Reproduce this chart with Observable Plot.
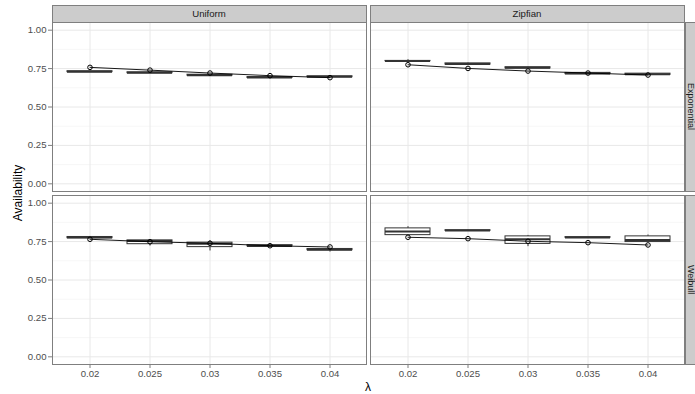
<!DOCTYPE html>
<html>
<head>
<meta charset="utf-8">
<script src="https://cdn.jsdelivr.net/npm/d3@7"></script>
<script src="https://cdn.jsdelivr.net/npm/@observablehq/plot@0.6"></script>
<style>
  html, body { margin: 0; padding: 0; background: white; }
  #chart { position: relative; width: 695px; height: 394px; overflow: hidden; background: white;
           font-family: "Liberation Sans", Arial, Helvetica, sans-serif; }
  .pan { position: absolute; }
  .strip { position: absolute; box-sizing: border-box; background: #cccccc; border: 1px solid #7f7f7f;
           font-size: 9.6px; color: #1a1a1a; display: flex; align-items: center; justify-content: center; }
  .rstrip { border-right: none; font-size: 9px; }
  .vtext { writing-mode: vertical-rl; white-space: nowrap; line-height: 9px; }
  .title { position: absolute; font-size: 12px; color: #000; white-space: nowrap; }
</style>
</head>
<body>
<div id="chart"></div>
<script>
// ---- data ----
const lambdas = ["0.02", "0.025", "0.03", "0.035", "0.04"];
const columns = ["Uniform", "Zipfian"];
const rows = ["Exponential", "Weibull"];
const yBreaks = [0, 0.25, 0.5, 0.75, 1];
const yMinorBreaks = [0.125, 0.375, 0.625, 0.875];
const yTickLabels = ["0.00", "0.25", "0.50", "0.75", "1.00"];
// panel order: Uniform/Exponential, Zipfian/Exponential, Uniform/Weibull, Zipfian/Weibull
const whiskerLow = [
  [0.725, 0.718, 0.702, 0.687, 0.692],
  [0.797, 0.773, 0.748, 0.711, 0.706],
  [0.770, 0.721, 0.689, 0.716, 0.682],
  [0.791, 0.819, 0.717, 0.774, 0.746]
];
const lowerQuartile = [
  [0.727, 0.720, 0.704, 0.689, 0.694],
  [0.798, 0.776, 0.751, 0.714, 0.709],
  [0.772, 0.733, 0.714, 0.719, 0.694],
  [0.792, 0.820, 0.735, 0.775, 0.747]
];
const medianAvail = [
  [0.730, 0.723, 0.707, 0.692, 0.697],
  [0.799, 0.780, 0.755, 0.718, 0.713],
  [0.776, 0.754, 0.736, 0.722, 0.697],
  [0.815, 0.822, 0.765, 0.777, 0.760]
];
const upperQuartile = [
  [0.733, 0.726, 0.710, 0.695, 0.700],
  [0.800, 0.784, 0.759, 0.722, 0.717],
  [0.780, 0.758, 0.743, 0.727, 0.702],
  [0.836, 0.824, 0.784, 0.779, 0.784]
];
const whiskerHigh = [
  [0.735, 0.728, 0.712, 0.697, 0.702],
  [0.808, 0.787, 0.761, 0.725, 0.720],
  [0.782, 0.762, 0.756, 0.731, 0.705],
  [0.847, 0.826, 0.790, 0.781, 0.793]
];
const meanAvail = [
  [0.758, 0.740, 0.721, 0.704, 0.691],
  [0.775, 0.751, 0.734, 0.721, 0.708],
  [0.765, 0.749, 0.739, 0.723, 0.715],
  [0.778, 0.769, 0.752, 0.743, 0.728]
];

// ---- layout ----
const colX = [52, 370], panelW = 314;
const rowY = [22, 195], panelH = 169;
const chart = document.getElementById("chart");

for (let p = 0; p < 4; p++) {
  const col = p % 2, row = Math.floor(p / 2);
  const showY = col === 0, showX = row === 1;
  const data = lambdas.map((l, i) => ({
    lambda: l, lo: whiskerLow[p][i], q1: lowerQuartile[p][i], med: medianAvail[p][i],
    q3: upperQuartile[p][i], hi: whiskerHigh[p][i], mean: meanAvail[p][i]
  }));
  const svg = Plot.plot({
    width: 52 + panelW, height: panelH + 26,
    marginLeft: 52, marginRight: 0, marginTop: 0, marginBottom: 26,
    style: {overflow: "visible", background: "transparent",
            fontFamily: "'Liberation Sans', Arial, Helvetica, sans-serif", fontSize: "9.6px"},
    x: Object.assign({type: "band", domain: lambdas, paddingInner: 0.25, paddingOuter: 0.225, label: null},
                     showX ? {} : {axis: null}),
    y: Object.assign({domain: [-0.05, 1.05], label: null}, showY ? {} : {axis: null}),
    marks: [
      Plot.ruleY(yMinorBreaks, {stroke: "#f7f7f7", strokeWidth: 1}),
      Plot.ruleY(yBreaks, {stroke: "#e8e8e8", strokeWidth: 1}),
      Plot.ruleX(lambdas, {stroke: "#e8e8e8", strokeWidth: 1}),
      Plot.ruleX(data, {x: "lambda", y1: "lo", y2: "q1", stroke: "#333333", strokeWidth: 1}),
      Plot.ruleX(data, {x: "lambda", y1: "q3", y2: "hi", stroke: "#333333", strokeWidth: 1}),
      Plot.barY(data, {x: "lambda", y1: "q1", y2: "q3", fill: "white", stroke: "#333333", strokeWidth: 1}),
      Plot.tickY(data, {x: "lambda", y: "med", stroke: "#333333", strokeWidth: 2}),
      Plot.line(data, {x: "lambda", y: "mean", stroke: "black", strokeWidth: 0.9}),
      Plot.dot(data, {x: "lambda", y: "mean", r: 2.3, stroke: "black", fill: "none", strokeWidth: 1}),
      Plot.frame({stroke: "#7f7f7f", strokeWidth: 1}),
      showY ? Plot.axisY(yBreaks, {tickFormat: (d) => yTickLabels[yBreaks.indexOf(d)], tickSize: 4, tickPadding: 2,
                                   stroke: "#7f7f7f", fill: "#4d4d4d", fontSize: 9.6, label: null}) : null,
      showX ? Plot.axisX({tickSize: 4, tickPadding: 2, stroke: "#7f7f7f", fill: "#4d4d4d", fontSize: 9.6, label: null}) : null
    ]
  });
  svg.classList.add("pan");
  svg.style.left = (colX[col] - 52) + "px";
  svg.style.top = rowY[row] + "px";
  chart.appendChild(svg);
}

// column strips
columns.forEach((c, i) => {
  const d = document.createElement("div");
  d.className = "strip";
  d.style.left = (colX[i] - 0.5) + "px"; d.style.top = "5px";
  d.style.width = (panelW + 1) + "px"; d.style.height = "17.5px";
  d.textContent = c;
  chart.appendChild(d);
});
// row strips (cut by the right edge of the picture, as in the original)
rows.forEach((r, i) => {
  const d = document.createElement("div");
  d.className = "strip rstrip";
  d.style.left = "684.5px"; d.style.top = (rowY[i] - 0.5) + "px";
  d.style.width = "10.5px"; d.style.height = (panelH + 1) + "px";
  const s = document.createElement("span");
  s.className = "vtext"; s.textContent = r;
  d.appendChild(s);
  chart.appendChild(d);
});
// axis titles
const yt = document.createElement("div");
yt.className = "title"; yt.textContent = "Availability";
yt.style.left = "18px"; yt.style.top = "193px";
yt.style.transform = "translate(-50%, -50%) rotate(-90deg)";
chart.appendChild(yt);
const xt = document.createElement("div");
xt.className = "title"; xt.textContent = "λ";
xt.style.left = "368px"; xt.style.top = "387px";
xt.style.transform = "translate(-50%, -50%)";
chart.appendChild(xt);
</script>
</body>
</html>
